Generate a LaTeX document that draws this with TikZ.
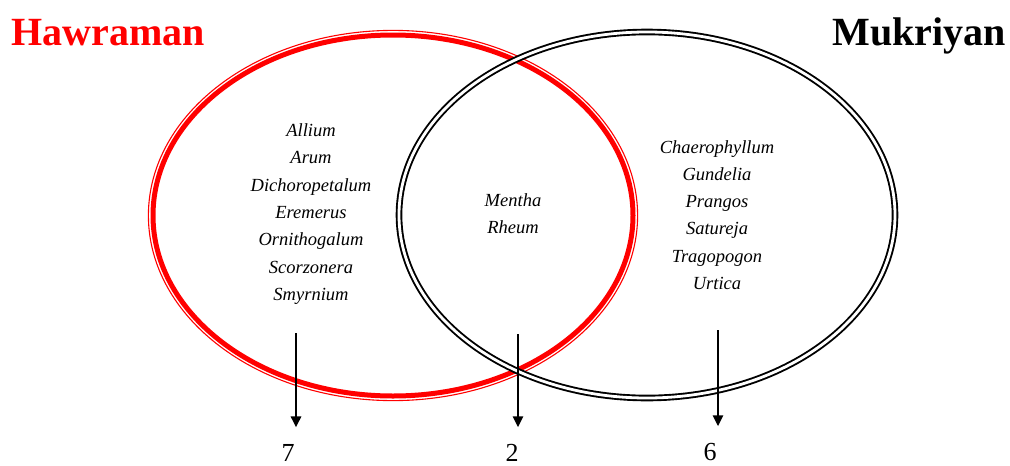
\documentclass[tikz,border=0pt]{standalone}
\usepackage{fontspec}
\setmainfont{Liberation Serif}
\usepackage{tikz}
\usetikzlibrary{arrows.meta,positioning,calc}

\begin{document}
\begin{tikzpicture}[
  x=1pt, y=-1pt,
  >={Triangle[length=11pt,width=10pt]},
  ttl/.style={font=\fontsize{40}{44}\selectfont\bfseries, anchor=base, inner sep=0pt},
  genus/.style={font=\fontsize{18.5}{27.3}\selectfont\itshape, align=center, text=black},
  cnt/.style={font=\fontsize{26}{28}\selectfont, anchor=base},
  arr/.style={->, line width=2.6pt, shorten >=13pt}
]
\useasboundingbox (0,0) rectangle (1010,466);

% ==================== SETS ====================
% Hawraman: thick red line, thin red line outside it
\draw[red, line width=5pt] (393,215.5) ellipse [x radius=240pt, y radius=180.5pt];
\draw[red, line width=1.1pt] (393,215.5) ellipse [x radius=244.6pt, y radius=185.1pt];
% Mukriyan: double black line
\draw[black, double=white, line width=1.9pt, double distance=2.8pt] (647,215) ellipse [x radius=248pt, y radius=183pt];

% Titles
\node[ttl, text=red] (hawraman) at (108,45) {Hawraman};
\node[ttl] (mukriyan) at (919,45) {Mukriyan};

% ==================== GENERA ====================
\node[genus] (onlyH) at (311,214) {Allium\\Arum\\Dichoropetalum\\Eremerus\\Ornithogalum\\Scorzonera\\Smyrnium};
\node[genus] (both) at (513,214) {Mentha\\Rheum};
\node[genus] (onlyM) at (717,215) {Chaerophyllum\\Gundelia\\Prangos\\Satureja\\Tragopogon\\Urtica};

% ==================== COUNTS ====================
\node[cnt] (n7) at (288,461) {7};
\node[cnt] (n2) at (512,461) {2};
\node[cnt] (n6) at (710,460) {6};

\coordinate (top7) at (296,333);
\coordinate (top2) at (518,334);
\coordinate (top6) at (718,330);

\draw[arr] (top7) -- (top7 |- n7.north);
\draw[arr] (top2) -- (top2 |- n2.north);
\draw[arr] (top6) -- (top6 |- n6.north);

\end{tikzpicture}
\end{document}
